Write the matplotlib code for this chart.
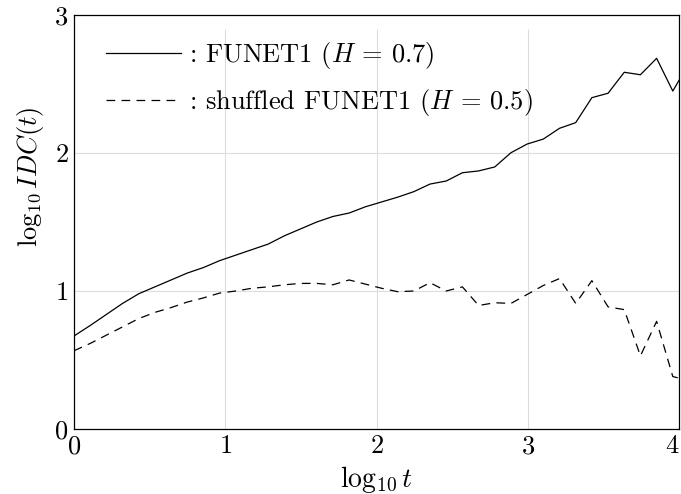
import numpy as np
import matplotlib
matplotlib.use('Agg')
import matplotlib.pyplot as plt

# log10 t sample points (roughly 0.107 apart)
log_t = [0.000, 0.107, 0.214, 0.321, 0.428, 0.535, 0.642, 0.749, 0.856, 0.963,
         1.070, 1.177, 1.284, 1.391, 1.498, 1.605, 1.712, 1.819, 1.926, 2.033,
         2.140, 2.247, 2.354, 2.461, 2.568, 2.675, 2.782, 2.889, 2.996, 3.103,
         3.210, 3.317, 3.424, 3.531, 3.638, 3.745, 3.852, 3.959, 4.066]

# log10 IDC(t), original trace
idc_funet = [0.674, 0.75, 0.83, 0.91, 0.98, 1.03, 1.08, 1.13, 1.17, 1.22,
             1.26, 1.30, 1.34, 1.40, 1.45, 1.50, 1.54, 1.565, 1.61, 1.645,
             1.68, 1.72, 1.775, 1.797, 1.857, 1.870, 1.899, 2.002, 2.065, 2.101,
             2.179, 2.220, 2.401, 2.433, 2.585, 2.567, 2.686, 2.449, 2.65]

# log10 IDC(t), shuffled trace
idc_shuffled = [0.567, 0.62, 0.68, 0.74, 0.80, 0.845, 0.88, 0.92, 0.95, 0.985,
                1.00, 1.02, 1.03, 1.045, 1.055, 1.055, 1.045, 1.08, 1.05, 1.02,
                0.995, 1.00, 1.06, 1.00, 1.03, 0.895, 0.915, 0.91, 0.975, 1.04,
                1.09, 0.91, 1.075, 0.885, 0.865, 0.53, 0.78, 0.38, 0.35]

labels = [r': FUNET1 ($H$ = 0.7)', r': shuffled FUNET1 ($H$ = 0.5)']

plt.rcParams['font.family'] = 'cmr10'
plt.rcParams['mathtext.fontset'] = 'cm'
plt.rcParams['axes.formatter.use_mathtext'] = True

fig = plt.figure(figsize=(6.81, 4.94), dpi=100)
ax = fig.add_axes([74 / 681, 1 - 429 / 494, 605 / 681, 414 / 494])

grid_col = '#dcdcdc'
ax.vlines([1, 2, 3], 0, 2.9, colors=grid_col, linewidth=0.8, zorder=0)
ax.hlines([1, 2], 0, 4, colors=grid_col, linewidth=0.8, zorder=0)

ax.plot(log_t, idc_funet, color='black', linewidth=0.9, label=labels[0])
ax.plot(log_t, idc_shuffled, color='black', linewidth=0.9,
        dashes=(7, 5), label=labels[1])

ax.set_xlim(0, 4)
ax.set_ylim(0, 3)
ax.set_xticks([0, 1, 2, 3, 4])
ax.set_yticks([0, 1, 2, 3])
ax.tick_params(length=0, labelsize=19, pad=4)
# keep the last x label inside the figure
ax.get_xticklabels()[-1].set_horizontalalignment('right')
for sp in ax.spines.values():
    sp.set_linewidth(0.9)

ax.set_xlabel(r'$\log_{10} t$', fontsize=20, labelpad=4)
ax.set_ylabel(r'$\log_{10} IDC(t)$', fontsize=19)
ax.yaxis.set_label_coords(-0.047, 0.61)

ax.legend(loc='upper left', bbox_to_anchor=(0.053, 0.94), frameon=False,
          fontsize=19, handlelength=2.85, handletextpad=0.3,
          labelspacing=0.62, borderpad=0, borderaxespad=0)

fig.savefig('out.png', dpi=100)
